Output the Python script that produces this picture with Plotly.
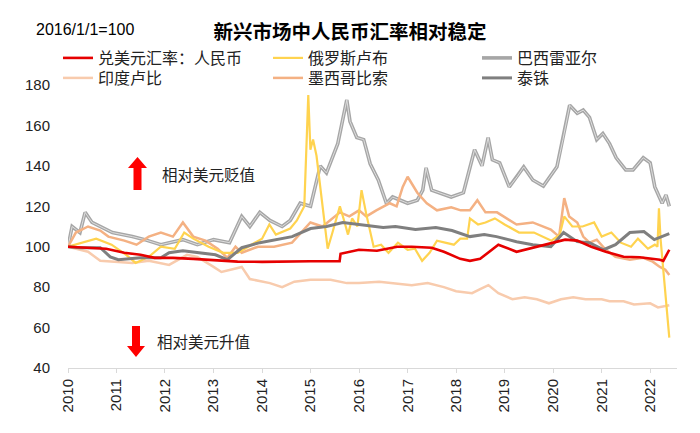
import plotly.graph_objects as go

# ---------------- data ----------------
cny_dates = ["2010-01-01","2010-07-01","2010-10-15","2011-03-01","2011-07-01","2011-10-15","2012-03-01","2012-08-01",
             "2013-01-01","2013-07-01","2014-01-01","2014-07-01","2015-01-01","2015-08-08","2015-08-15","2016-01-01",
             "2016-05-15","2016-10-15","2017-02-01","2017-07-01","2017-10-01","2018-02-01","2018-04-15","2018-07-01",
             "2018-11-15","2019-04-01","2019-08-01","2019-12-15","2020-04-01","2020-07-01","2020-10-15","2021-02-01",
             "2021-06-15","2021-10-15","2022-03-15","2022-04-10","2022-05-25"]
cny_vals = [100,99.5,99,97,96,94.5,94.5,94,93.5,92.6,92.5,92.8,92.8,92.8,96.5,98.5,
            98,100,100,99.5,97.5,94,93,94,101,97.5,99.5,101.5,103.5,103,100,97.5,
            95,94.8,93.6,93,98.5]

rub_dates = ["2010-01-01","2010-04-15","2010-08-01","2010-11-25","2011-03-15","2011-05-25","2011-09-01","2011-12-01",
             "2012-03-15","2012-05-25","2012-08-01","2012-11-25","2013-03-15","2013-07-01","2013-10-15","2014-01-01",
             "2014-02-25","2014-04-15","2014-08-01","2014-09-20","2014-11-15","2014-12-15","2014-12-31","2015-01-20",
             "2015-02-15","2015-04-01","2015-05-10","2015-06-15","2015-08-10","2015-09-15","2015-10-10","2015-11-10",
             "2015-12-20","2016-01-20","2016-02-25","2016-04-20","2016-06-15","2016-08-10","2016-10-20","2017-01-01",
             "2017-02-25","2017-04-20","2017-06-15","2017-08-10","2017-10-20","2017-12-15","2018-02-01","2018-03-25",
             "2018-04-15","2018-06-15","2018-08-10","2018-10-20","2019-01-01","2019-04-20","2019-08-10","2019-10-20",
             "2019-12-20","2020-02-20","2020-03-25","2020-05-25","2020-08-10","2020-11-05","2021-01-01","2021-03-15",
             "2021-05-25","2021-08-10","2021-10-01","2021-12-15","2022-02-05","2022-02-25","2022-03-08","2022-03-20",
             "2022-04-20","2022-05-25"]
rub_vals = [100,102,104,101,96,92,95,100,99,107,104,100,97,97,101,104,
            111,106,109,113,120,175,148,153,145,120,99,107,120,112,106,114,
            110,128,116,100,101,97,102,98.5,99,93,97,103,102,101,104,104,
            114,111,112,114,111,107,107,105,103,106,115,110,110,112,105,107,
            102,100,104,99,101,100,119,104,82,55]

brl_dates = ["2010-01-01","2010-02-01","2010-04-01","2010-05-10","2010-07-01","2010-09-01","2010-12-01","2011-05-01",
             "2011-08-01","2011-12-01","2012-05-15","2012-09-01","2013-01-01","2013-05-01","2013-08-01","2013-10-01",
             "2013-12-15","2014-03-01","2014-06-01","2014-08-01","2014-10-15","2015-01-01","2015-03-15","2015-05-01",
             "2015-07-25","2015-10-01","2015-10-25","2015-12-15","2016-02-05","2016-03-25","2016-05-25","2016-07-25",
             "2016-09-10","2017-01-01","2017-03-15","2017-04-25","2017-05-20","2017-07-01","2017-11-25","2018-02-25",
             "2018-05-20","2018-07-15","2018-08-30","2018-10-01","2018-11-25","2019-02-05","2019-04-05","2019-05-25",
             "2019-08-01","2019-10-20","2020-01-30","2020-03-15","2020-05-05","2020-07-01","2020-08-15","2020-10-01",
             "2020-11-25","2021-01-10","2021-03-01","2021-04-20","2021-07-01","2021-08-25","2021-11-10","2022-01-01",
             "2022-02-05","2022-04-01","2022-04-30","2022-05-25"]
brl_vals = [100,110,107,117,112,110,107,105,
            103.5,101,103.5,101,103.5,102,115,110,
            117,113,110,113,121.5,120,140,136.5,
            151,172.6,162,154,153,141,133,121.5,
            124.6,121.5,123,128,139,128,124.6,126.7,
            148,140,154,143,141.5,129.6,134.6,139.5,
            133,130,139.5,153,170,166,167.6,164,
            153,156,151,144,138,138,144,141.5,
            129.6,121.5,125.6,120]

inr_dates = ["2010-01-01","2010-06-01","2010-09-01","2011-01-01","2011-05-01","2011-09-01","2011-12-01","2012-02-01",
             "2012-06-15","2012-09-01","2013-01-01","2013-03-01","2013-06-01","2013-08-01","2013-10-01","2014-03-01",
             "2014-06-01","2014-09-01","2015-01-01","2015-06-01","2015-10-01","2016-01-01","2016-06-01","2016-10-01",
             "2017-02-01","2017-06-01","2017-10-01","2018-01-01","2018-05-01","2018-07-01","2018-09-01","2018-11-15",
             "2019-03-01","2019-06-01","2019-09-01","2019-12-01","2020-03-01","2020-06-01","2020-09-01","2021-01-01",
             "2021-03-01","2021-06-15","2021-09-01","2022-01-01","2022-03-01","2022-05-25"]
inr_vals = [100,97.5,93,92.5,92,93,92,91,
            96,95,90,87.5,89,90,84,82,
            80,82.7,83.7,83.7,82,82,82.7,82,
            81,82,80,78,77,79,81,77,
            74,75,74,72,74,75,74,74,
            73,73,71.4,72,70,71]

mxn_dates = ["2010-01-01","2010-03-01","2010-06-01","2010-09-01","2010-11-01","2011-03-01","2011-06-01","2011-09-01",
             "2011-12-01","2012-03-01","2012-05-15","2012-08-01","2012-11-01","2013-02-01","2013-04-15","2013-06-15",
             "2013-08-01","2013-12-01","2014-04-01","2014-08-15","2014-12-31","2015-04-01","2015-08-10","2015-10-20",
             "2016-01-01","2016-02-25","2016-05-10","2016-08-20","2016-10-10","2016-11-25","2017-01-01","2017-03-15",
             "2017-05-25","2017-08-10","2017-11-25","2018-02-05","2018-04-15","2018-06-10","2018-08-10","2018-11-05",
             "2019-04-01","2019-08-01","2019-12-15","2020-02-15","2020-03-25","2020-05-01","2020-07-01","2020-08-15",
             "2020-10-01","2020-11-25","2021-02-01","2021-04-15","2021-08-01","2021-11-10","2022-01-20","2022-03-15",
             "2022-04-25","2022-05-25"]
mxn_vals = [100,107,110,108,105,103,101,105,
            107,105,112,105,103,99,94.5,100,
            97,100,100,102,112,110,117,115,
            118,115,118,121.5,120,129.6,134.6,126.7,
            121.5,118,119.5,118,118,123,117,117,
            111,112,108.5,105,124,115,112,105,
            102,103.5,98.5,95,93.6,94.5,92.6,90,
            88.6,86]

thb_dates = ["2010-01-01","2010-04-01","2010-09-01","2010-11-15","2011-01-15","2011-07-01","2011-12-01","2012-02-01",
             "2012-05-15","2012-09-01","2013-01-15","2013-04-15","2013-08-01","2013-12-15","2014-04-15","2014-08-15",
             "2015-01-01","2015-05-01","2015-09-01","2016-01-01","2016-07-01","2016-10-01","2017-03-01","2017-08-01",
             "2017-12-01","2018-04-15","2018-08-01","2018-11-01","2019-04-01","2019-08-01","2019-12-15","2020-03-20",
             "2020-07-01","2020-10-01","2021-01-15","2021-04-15","2021-08-01","2021-11-15","2022-02-01","2022-05-25"]
thb_vals = [100,99.5,99.5,95,93.6,94.5,94.5,97,
            98,97,96,93.6,99.5,102,103.5,105,
            109,110,112,111,109.5,110,108.5,109.5,
            108,105,106,105,102.5,101,100,107,
            102.5,102,98.5,101,107,107.5,103.5,106.5]

names = {"cny": "兑美元汇率：人民币", "rub": "俄罗斯卢布", "brl": "巴西雷亚尔",
         "inr": "印度卢比", "mxn": "墨西哥比索", "thb": "泰铢"}

# ---------------- figure ----------------
FONT = "Liberation Sans, Arial, Noto Sans CJK SC, sans-serif"
OFF = 8                      # the page body has an 8px margin
W, H = 684, 417              # fits the 700x433 window inside that margin
PL, PR, PT, PB = 68, 677, 85, 368   # plot area edges in window pixels
L, T = PL - OFF, PT - OFF
R, B = W - (PR - OFF), H - (PB - OFF)

fig = go.Figure()
# drawing order: BRL (back), INR, MXN, RUB, THB, CNY (front); one legend per legend slot
fig.add_trace(go.Scatter(x=brl_dates, y=brl_vals, name=names["brl"], mode="lines",
                         line=dict(color="#a6a6a6", width=3.6), legend="legend3"))
fig.add_trace(go.Scatter(x=brl_dates, y=brl_vals, name=names["brl"], mode="lines", showlegend=False,
                         line=dict(color="#dedede", width=1.0), hoverinfo="skip"))
fig.add_trace(go.Scatter(x=inr_dates, y=inr_vals, name=names["inr"], mode="lines",
                         line=dict(color="#f8cbad", width=2.5), legend="legend4"))
fig.add_trace(go.Scatter(x=mxn_dates, y=mxn_vals, name=names["mxn"], mode="lines",
                         line=dict(color="#f4b183", width=2.5), legend="legend5"))
fig.add_trace(go.Scatter(x=rub_dates, y=rub_vals, name=names["rub"], mode="lines",
                         line=dict(color="#ffd34f", width=2.2), legend="legend2"))
fig.add_trace(go.Scatter(x=thb_dates, y=thb_vals, name=names["thb"], mode="lines",
                         line=dict(color="#7f7f7f", width=3), legend="legend6"))
fig.add_trace(go.Scatter(x=cny_dates, y=cny_vals, name=names["cny"], mode="lines",
                         line=dict(color="#e60000", width=2.6), legend="legend"))

def px(xs):
    return (xs - PL) / (PR - PL)

def py(ys):
    return (PB - ys) / (PB - PT)

def arrow_path(pts):
    return "M " + " L ".join(f"{px(a):.5f},{py(b):.5f}" for a, b in pts) + " Z"

up_arrow = [(137.5, 157), (147, 168), (141.5, 168), (141.5, 190), (133.5, 190), (133.5, 168), (128, 168)]
down_arrow = [(132, 326), (140, 326), (140, 346), (145, 346), (136, 357), (127, 346), (132, 346)]

shapes = [dict(type="path", xref="paper", yref="paper", path=arrow_path(up_arrow),
               fillcolor="#ff0000", line=dict(width=0)),
          dict(type="path", xref="paper", yref="paper", path=arrow_path(down_arrow),
               fillcolor="#ff0000", line=dict(width=0))]

annotations = [
    dict(text="2016/1/1=100", xref="paper", yref="paper", x=px(34), y=py(30), xanchor="left",
         yanchor="middle", showarrow=False, font=dict(size=16, color="#000000", family=FONT)),
    dict(text="相对美元贬值", xref="paper", yref="paper", x=px(160), y=py(175), xanchor="left",
         yanchor="middle", showarrow=False, font=dict(size=15.5, color="#222222", family=FONT)),
    dict(text="相对美元升值", xref="paper", yref="paper", x=px(155), y=py(342), xanchor="left",
         yanchor="middle", showarrow=False, font=dict(size=15.5, color="#222222", family=FONT)),
]

def legend_at(xs, ys_top):
    # xs, ys_top in window pixels
    return dict(orientation="v", xref="container", yref="container",
                x=(xs - OFF) / W, y=1 - (ys_top - OFF) / H,
                xanchor="left", yanchor="top", font=dict(size=16, color="#222222", family=FONT),
                bgcolor="rgba(0,0,0,0)", itemwidth=30)

COLS = [58, 268, 477]
ROWS = [41, 61]

fig.update_layout(
    width=W, height=H,
    margin=dict(l=L, r=R, t=T, b=B, autoexpand=False),
    paper_bgcolor="white", plot_bgcolor="white",
    font=dict(family=FONT, size=15, color="#222222"),
    title=dict(text="<b>新兴市场中人民币汇率相对稳定</b>", x=0.5, xref="container", xanchor="center",
               y=1 - (32 - OFF) / H, yref="container", yanchor="middle",
               font=dict(size=19.5, color="#000000", family=FONT)),
    showlegend=True,
    legend=legend_at(COLS[0], ROWS[0]),
    legend2=legend_at(COLS[1], ROWS[0]),
    legend3=legend_at(COLS[2], ROWS[0]),
    legend4=legend_at(COLS[0], ROWS[1]),
    legend5=legend_at(COLS[1], ROWS[1]),
    legend6=legend_at(COLS[2], ROWS[1]),
    shapes=shapes,
    annotations=annotations,
    xaxis=dict(type="date", range=["2010-01-01", "2022-07-22"], tickmode="linear", tick0="2010-01-01",
               dtick="M12", tickformat="%Y", tickangle=-90, showgrid=False, zeroline=False,
               showline=True, linecolor="#d9d9d9", linewidth=1, ticks="outside", ticklen=4,
               tickcolor="#d9d9d9", tickfont=dict(size=15, color="#222222")),
    yaxis=dict(range=[40, 180], tickmode="linear", tick0=40, dtick=20, showgrid=False, zeroline=False,
               showline=False, ticks="", ticklabelstandoff=17, tickfont=dict(size=15, color="#222222")),
)

fig.write_html("out.html")
